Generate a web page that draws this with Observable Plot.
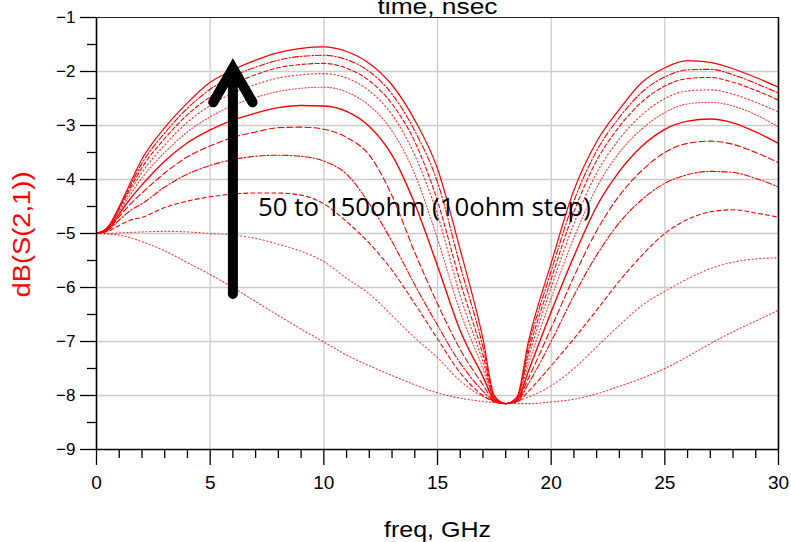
<!DOCTYPE html>
<html>
<head>
<meta charset="utf-8">
<script src="https://cdn.jsdelivr.net/npm/d3@7"></script>
<script src="https://cdn.jsdelivr.net/npm/@observablehq/plot@0.6"></script>
<style>
  body { margin: 0; background: #fff; }
</style>
</head>
<body>
<div id="chart"></div>
<script>
// Frequency sweep (GHz) shared by every trace
const freqGHz = [0, 0.5, 1, 1.5, 2, 3, 4, 5, 6, 7, 8, 9, 10, 11, 12, 13, 14, 15, 16, 17, 17.5, 18, 18.5, 19, 20, 21, 22, 23, 24, 25, 26, 27, 28, 29, 30];

// dB(S(2,1)) for each line impedance, sampled at freqGHz
const dB150 = [-5, -4.88, -4.5, -4.05, -3.62, -3.04, -2.58, -2.2, -1.97, -1.79, -1.65, -1.57, -1.545, -1.63, -1.85, -2.25, -2.9, -3.8, -5.3, -6.95, -8.0, -8.15, -8.02, -7.0, -5.55, -4.2, -3.3, -2.7, -2.2, -1.93, -1.8, -1.83, -1.95, -2.11, -2.29];
const dB140 = [-5, -4.89, -4.52, -4.1, -3.7, -3.14, -2.68, -2.33, -2.09, -1.92, -1.79, -1.72, -1.7, -1.78, -2.0, -2.42, -3.1, -4.05, -5.6, -7.1, -8.02, -8.15, -8.04, -7.1, -5.7, -4.4, -3.47, -2.85, -2.38, -2.1, -1.97, -1.96, -2.06, -2.22, -2.4];
const dB130 = [-5, -4.89, -4.54, -4.15, -3.78, -3.24, -2.8, -2.47, -2.23, -2.06, -1.93, -1.87, -1.85, -1.94, -2.17, -2.6, -3.3, -4.4, -5.9, -7.25, -8.04, -8.15, -8.05, -7.2, -5.85, -4.6, -3.65, -3.02, -2.56, -2.27, -2.13, -2.11, -2.2, -2.35, -2.53];
const dB120 = [-5, -4.9, -4.57, -4.2, -3.87, -3.36, -2.94, -2.63, -2.4, -2.24, -2.12, -2.06, -2.04, -2.12, -2.36, -2.8, -3.55, -4.65, -6.15, -7.38, -8.05, -8.15, -8.06, -7.3, -6.0, -4.82, -3.88, -3.25, -2.8, -2.5, -2.36, -2.34, -2.42, -2.57, -2.75];
const dB110 = [-5, -4.91, -4.6, -4.27, -3.97, -3.5, -3.12, -2.84, -2.63, -2.48, -2.37, -2.31, -2.29, -2.38, -2.63, -3.1, -3.9, -5.1, -6.45, -7.5, -8.07, -8.15, -8.08, -7.42, -6.2, -5.08, -4.15, -3.5, -3.06, -2.76, -2.6, -2.57, -2.64, -2.8, -3.03];
const dB100 = [-5, -4.92, -4.64, -4.35, -4.1, -3.66, -3.32, -3.08, -2.9, -2.77, -2.67, -2.63, -2.64, -2.74, -3.02, -3.55, -4.45, -5.6, -6.8, -7.65, -8.08, -8.15, -8.09, -7.55, -6.45, -5.42, -4.5, -3.85, -3.38, -3.07, -2.92, -2.88, -2.95, -3.12, -3.33];
const dB90 = [-5, -4.93, -4.69, -4.45, -4.25, -3.88, -3.58, -3.38, -3.22, -3.12, -3.04, -3.03, -3.07, -3.22, -3.55, -4.3, -5.35, -6.3, -7.15, -7.8, -8.1, -8.15, -8.1, -7.68, -6.75, -5.8, -4.95, -4.3, -3.83, -3.5, -3.33, -3.29, -3.35, -3.5, -3.69];
const dB80 = [-5, -4.94, -4.75, -4.57, -4.45, -4.14, -3.9, -3.74, -3.63, -3.57, -3.55, -3.57, -3.66, -3.9, -4.45, -5.15, -5.95, -6.7, -7.4, -7.92, -8.11, -8.15, -8.11, -7.78, -7.0, -6.15, -5.4, -4.8, -4.37, -4.07, -3.91, -3.85, -3.87, -3.98, -4.14];
const dB70 = [-5, -4.96, -4.85, -4.75, -4.7, -4.52, -4.4, -4.32, -4.27, -4.25, -4.25, -4.29, -4.45, -4.78, -5.18, -5.68, -6.3, -6.95, -7.58, -8.0, -8.12, -8.15, -8.12, -7.92, -7.45, -6.95, -6.42, -5.88, -5.4, -5.0, -4.74, -4.6, -4.56, -4.62, -4.7];
const dB60 = [-5, -5.0, -4.99, -4.98, -4.97, -4.96, -4.97, -5.0, -5.03, -5.09, -5.2, -5.33, -5.52, -5.83, -6.12, -6.52, -6.93, -7.3, -7.73, -8.02, -8.1, -8.15, -8.1, -8.03, -7.82, -7.5, -7.1, -6.7, -6.33, -6.07, -5.84, -5.65, -5.53, -5.47, -5.45];
const dB50 = [-5, -5.01, -5.03, -5.08, -5.15, -5.32, -5.54, -5.76, -6.0, -6.26, -6.52, -6.77, -7.01, -7.25, -7.45, -7.63, -7.8, -7.95, -8.05, -8.11, -8.13, -8.14, -8.15, -8.15, -8.12, -8.07, -7.97, -7.83, -7.68, -7.5, -7.28, -7.04, -6.82, -6.62, -6.42];

const impedanceOhm = [150, 140, 130, 120, 110, 100, 90, 80, 70, 60, 50];
const traces = [dB150, dB140, dB130, dB120, dB110, dB100, dB90, dB80, dB70, dB60, dB50];

// Axis ticks
const xTicks = [0, 5, 10, 15, 20, 25, 30];
const xMinorTicks = [1, 2, 3, 4, 6, 7, 8, 9, 11, 12, 13, 14, 16, 17, 18, 19, 21, 22, 23, 24, 26, 27, 28, 29];
const yTicks = [-1, -2, -3, -4, -5, -6, -7, -8, -9];
const yMinorTicks = [-1.5, -2.5, -3.5, -4.5, -5.5, -6.5, -7.5, -8.5];
const xGrid = [5, 10, 15, 20, 25];
const yGrid = [-2, -3, -4, -5, -6, -7, -8];

// Text
const xTitle = "freq, GHz";
const yTitle = "dB(S(2,1))";
const topTitle = "time, nsec";
const sweepNote = "50 to 150ohm (10ohm step)";

// Trace line styles, in the order of impedanceOhm
const traceDash = ["none", "6,2,1.5,2", "4,2.5", "1.2,2.6", "1.2,2", "none", "6,3", "6,2,1.5,2", "4,3", "1.2,2.6", "1.2,2.4"];
const traceWidth = [1.2, 1.1, 1.1, 1.2, 1.1, 1.4, 1.1, 1.1, 1.1, 1.1, 1.1];
const traceOpacity = [1, 1, 1, 0.8, 0.75, 1, 1, 1, 1, 0.75, 0.8];

const red = "#ff0000";
const gridGray = "#cccccc";
const noLabel = () => "";
const intLabel = (d) => (d < 0 ? "\u2212" : "") + Math.abs(d);

const traceMarks = traces.map((values, k) => {
  const rows = freqGHz.map((f, i) => ({freq: f, db: values[i], ohm: impedanceOhm[k]}));
  return Plot.line(rows, {
    x: "freq",
    y: "db",
    curve: "monotone-x",
    stroke: red,
    strokeWidth: traceWidth[k],
    strokeOpacity: traceOpacity[k],
    strokeDasharray: traceDash[k]
  });
});

const chart = Plot.plot({
  width: 791,
  height: 542,
  marginLeft: 96,
  marginRight: 13,
  marginTop: 17,
  marginBottom: 93,
  style: {fontFamily: "'Liberation Sans', Arial, sans-serif", fontSize: "17px", background: "#fff", color: "#000"},
  x: {domain: [0, 30], label: null},
  y: {domain: [-9, -1], label: null},
  marks: [
    Plot.gridX(xGrid, {stroke: gridGray, strokeOpacity: 1, strokeWidth: 1.3}),
    Plot.gridY(yGrid, {stroke: gridGray, strokeOpacity: 1, strokeWidth: 1.3}),
    ...traceMarks,
    // frame: dark top and right edges, black axes on the left and bottom
    Plot.ruleY([-1], {stroke: "#222", strokeWidth: 1.2}),
    Plot.ruleX([30], {stroke: "#000", strokeWidth: 1.6}),
    Plot.ruleX([0], {stroke: "#000", strokeWidth: 1.6}),
    Plot.ruleY([-9], {stroke: "#000", strokeWidth: 1.6}),
    Plot.axisY(yTicks, {tickSize: 16, tickPadding: 5, fontSize: 17, strokeWidth: 1.3, tickFormat: intLabel, label: null}),
    Plot.axisY(yMinorTicks, {tickSize: 9, strokeWidth: 1.3, tickFormat: noLabel, label: null}),
    Plot.axisX(xTicks, {tickSize: 16, tickPadding: 9.5, fontSize: 19, strokeWidth: 1.3, tickFormat: intLabel, label: null}),
    Plot.axisX(xMinorTicks, {tickSize: 9, strokeWidth: 1.3, tickFormat: noLabel, label: null}),
    // titles
    Plot.text([topTitle], {frameAnchor: "top", dy: -4, lineAnchor: "bottom", fontSize: 22}),
    Plot.text([xTitle], {frameAnchor: "bottom", dy: 87, lineAnchor: "bottom", fontSize: 22}),
    Plot.text([yTitle], {frameAnchor: "left", dx: -74, dy: 64, rotate: -90, textAnchor: "start", fontSize: 23, fill: red}),
    // sweep annotation: arrow and note
    Plot.arrow([{}], {
      x1: 6.0, y1: -6.12, x2: 6.0, y2: -1.94,
      stroke: "#000", strokeWidth: 10, headLength: 5.9, headAngle: 60,
      strokeLinecap: "round", strokeLinejoin: "miter", strokeMiterlimit: 4
    }),
    Plot.text([sweepNote], {
      x: 7.1, y: -4.52, textAnchor: "start", lineAnchor: "middle",
      fontFamily: "'Open Sans', 'Noto Sans', sans-serif", fontSize: 26, fill: "#000"
    })
  ]
});

// Axis titles and the note are set in a wide face; fix their rendered widths
const widths = new Map([[topTitle, 120], [xTitle, 107], [yTitle, 126], [sweepNote, 333]]);
d3.select(chart).selectAll("text").each(function () {
  const w = widths.get(this.textContent);
  if (w) d3.select(this).attr("textLength", w).attr("lengthAdjust", "spacingAndGlyphs");
});

document.getElementById("chart").appendChild(chart);
</script>
</body>
</html>
